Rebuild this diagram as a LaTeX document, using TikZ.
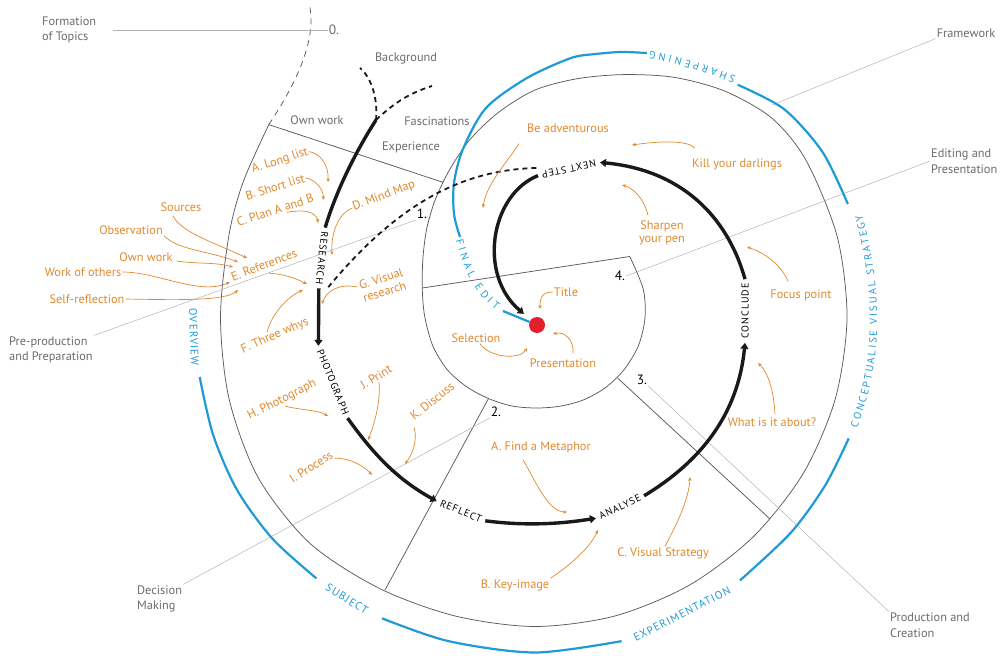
\documentclass[tikz,border=0pt]{standalone}
\usepackage{fontspec}
\setmainfont{PT Sans}
\newfontfamily\capsfont[LetterSpace=10]{PT Sans}
\usetikzlibrary{arrows.meta,decorations.text}
\definecolor{inkgray}{HTML}{6B6B6B}
\definecolor{linegray}{HTML}{5A5A5A}
\definecolor{leadgray}{HTML}{B4B4B4}
\definecolor{noteorange}{HTML}{E0892C}
\definecolor{bandblue}{HTML}{1E9AD6}
\definecolor{dotred}{HTML}{E31E2D}
\newcommand\bandfont{\color{bandblue}\fontsize{10.5}{12}\selectfont}
\tikzset{
    gray-label/.style = {text=inkgray, font=\fontsize{12.3}{15.5}\selectfont, inner sep=1pt, align=left},
    note-label/.style = {text=noteorange, font=\fontsize{12.3}{13.5}\selectfont, inner sep=1pt, align=left},
    note-arrow/.style = {draw=noteorange, line width=0.7pt, -{Stealth[length=4pt,width=3.4pt]}},
    number-label/.style = {font=\fontsize{13.5}{15}\selectfont, inner sep=1pt},
    stage-label/.style = {font=\capsfont\fontsize{10}{11}\selectfont, inner sep=4pt},
    stage-line/.style = {draw=black!90, line width=3.4pt},
    stage-arrow/.style = {stage-line, -{Triangle[length=6pt,width=8pt]}},
    stage-dash/.style = {draw=black!90, line width=1.8pt, dash pattern=on 5pt off 4pt},
    band-label/.style = {text=bandblue, font=\capsfont\fontsize{11}{12}\selectfont, inner sep=1pt},
    band-line/.style = {draw=bandblue, line width=2.2pt},
    spiral-line/.style = {draw=linegray, line width=0.75pt},
    leader-line/.style = {draw=leadgray, line width=0.5pt},
}

\begin{document}
\begin{tikzpicture}[x=1pt, y=-1pt]
\useasboundingbox (0,0) rectangle (1005,656);

% the spiral of sections
\draw[spiral-line] plot[smooth, tension=0.5] coordinates {
    (268.8,124.6) (243.2,181.9) (228.8,236) (220.5,318) (229.3,399.9) (258.3,477.8)
    (309.8,543.2) (379,588.2) (455.2,616) (535,626.5) (614.8,616) (689.3,585.2)
    (753.5,536.5) (803.5,473) (835.4,398.5) (847,318) (837.3,237) (806.5,161.2)
    (772.5,118.7) (725.3,91.3) (674,77.3) (623.6,74.6) (577.2,78.7) (535,90)
    (498.7,112.2) (470,139.5) (449.5,169.9) (435.4,199.3) (427,227.4) (423.3,253.5)
    (422.2,277) (422.7,298.2) (425,318) (432.6,345.4) (446.7,369) (466.4,386.6)
    (488.5,398.5) (511.4,405.9) (535,408) (558.7,406.4) (582.5,400.3) (605,388)
    (624.2,369.5) (638.4,345.7) (645,318) (643.2,289) (629.8,256.5)};
\coordinate (s0) at (268.8,124.6);
\coordinate (top-end) at (309,3);
\draw[spiral-line, dash pattern=on 6pt off 5pt] (s0) .. controls (295,85) and (318,40) .. (top-end);

% section borders
\draw[spiral-line] (s0) -- (443.4,182.5);
\draw[spiral-line] (422.4,288) -- (629.8,256.5);
\draw[spiral-line] (488.5,398.5) -- (385,590);
\draw[spiral-line] (617.5,378) -- (770,519);

% section numbers
\node[number-label, text=inkgray] (zero) at (334,30) {0.};
\node[number-label] (one) at (422,214) {1.};
\node[number-label] (two) at (496,412) {2.};
\node[number-label] (three) at (642,380) {3.};
\node[number-label] (four) at (620,276) {4.};

% phase labels and leaders
\node[gray-label, anchor=west] (formation) at (41,30) {Formation\\of Topics};
\node[gray-label] (framework) at (966,33) {Framework};
\node[gray-label, anchor=west] (editing) at (930,161) {Editing and\\Presentation};
\node[gray-label, anchor=west] (preproduction) at (8,350) {Pre-production\\and Preparation};
\node[gray-label, anchor=west] (decision) at (136,599) {Decision\\Making};
\node[gray-label, anchor=west] (production) at (889,625) {Production and\\Creation};
\coordinate (fw-point) at (772,105);
\draw[leader-line, shorten <=16pt] (formation.east) -- (zero.west);
\draw[leader-line] (fw-point) -- (framework.south west);
\draw[leader-line] (four.east) -- (editing.west);
\draw[leader-line] (one.south west) -- (preproduction.north east);
\draw[leader-line] (two.south west) -- (decision.north east);
\draw[leader-line] (three.south east) -- (production.north west);

\node[gray-label] (background) at (406,58) {Background};
\node[gray-label] (own-gray) at (317,120) {Own work};
\node[gray-label] (fascinations) at (437,121) {Fascinations};
\node[gray-label] (experience) at (411,147) {Experience};

% blue band
\node[band-label, rotate=-88] (overview) at (194,337) {OVERVIEW};
\node[band-label, rotate=-32] (subject) at (347,599) {SUBJECT};
\node[band-label, rotate=27] (experimentation) at (682,614) {EXPERIMENTATION};
\draw[band-line] plot[smooth] coordinates {(199.7,377.1) (213.2,435.1) (237.1,490) (272.3,538.5) (316.4,578.4)};
\draw[band-line] plot[smooth] coordinates {(382,618.3) (448.4,641.1) (535,652.5) (621.6,641.1)};
\draw[band-line] plot[smooth] coordinates {(740,580.4) (790.8,532.7) (825.1,485.5) (848.7,438.4)};
\draw[band-line] plot[smooth] coordinates {(847.9,204.1) (822.5,152) (784,109.1) (737.7,84.8)};
\draw[band-line] plot[smooth] coordinates {(647,53) (621,52) (596,54) (571,58) (527,78) (486,108)
    (463,149) (454,183) (454,214) (460,237)};
\path[decorate, decoration={text along path, text align=fit to path,
    text={|\bandfont|CONCEPTUALISE VISUAL STRATEGY}}]
    (857,428) .. controls (882,364) and (884,293) .. (862,215);
\path[decorate, decoration={text along path, text align=fit to path,
    text={|\bandfont|SHARPENING}}]
    (736,77) .. controls (710,66) and (681,57) .. (650,51);
\path[decorate, decoration={text along path, text align=fit to path,
    text={|\bandfont|FINAL EDIT}}]
    (456,240) .. controls (464,273) and (477,296) .. (496,310);

% centre point
\node[circle, fill=dotred, minimum size=16pt, inner sep=0pt] (dot) at (537,325) {};
\coordinate (fe-end) at (503,311);
\draw[band-line] (fe-end) -- (dot);

% main path
\node[stage-label, rotate=-96] (research) at (322,258) {RESEARCH};
\node[stage-label, rotate=-68] (photograph) at (333,382) {PHOTOGRAPH};
\node[stage-label, rotate=-22] (reflect) at (461,511) {REFLECT};
\node[stage-label, rotate=25] (analyse) at (620,507) {ANALYSE};
\node[stage-label, rotate=90] (conclude) at (745,311) {CONCLUDE};
\node[stage-label, rotate=192] (next-step) at (569,169) {NEXT STEP};
\coordinate (fork) at (376,120);
\coordinate (bg-end) at (360,68);
\coordinate (fasc-end) at (432,86);
\draw[stage-dash] (fork) .. controls (378,100) and (372,78) .. (bg-end);
\draw[stage-dash] (fork) .. controls (395,102) and (410,93) .. (fasc-end);
\draw[stage-dash] (next-step.south east) .. controls (465,170) and (400,200) .. (research.north east);
\draw[stage-line] (fork) .. controls (358,148) and (337,188) .. (research.west);
\draw[stage-arrow] (research.east) -- (photograph.west);
\draw[stage-arrow] (photograph.east) .. controls (372,452) and (395,478) .. (reflect.west);
\draw[stage-arrow] (reflect.east) .. controls (525,526) and (560,524) .. (analyse.west);
\draw[stage-arrow] (analyse.east) .. controls (700,462) and (738,415) .. (conclude.west);
\draw[stage-arrow] (conclude.east) .. controls (727,215) and (680,170) .. (next-step.west);
\draw[stage-arrow, shorten >=9pt] (next-step.east) .. controls (490,195) and (478,275) .. (dot);

% notes on the left
\node[note-label, rotate=18] (long-list) at (280,161) {A. Long list};
\node[note-label, rotate=17] (short-list) at (275,187) {B. Short list};
\node[note-label, rotate=18] (plan-ab) at (275,210) {C. Plan A and B};
\node[note-label, rotate=21] (mind-map) at (384,196) {D. Mind Map};
\node[note-label] (sources) at (181,207) {Sources};
\node[note-label] (observation) at (131,230) {Observation};
\node[note-label] (own-work) at (146,257) {Own work};
\node[note-label] (others) at (83,272) {Work of others};
\node[note-label] (self) at (87,299) {Self-reflection};
\node[note-label, rotate=21] (references) at (264,265) {E. References};
\node[note-label, rotate=24] (three-whys) at (275,336) {F. Three whys};
\node[note-label, rotate=17] (g-visual) at (383,285) {G. Visual\\research};
\node[note-label, rotate=27] (h-photo) at (282,400) {H. Photograph};
\node[note-label, rotate=32] (j-print) at (376,377) {J. Print};
\node[note-label, rotate=39] (k-discuss) at (432,401) {K. Discuss};
\node[note-label, rotate=33] (i-process) at (311,467) {I. Process};
\coordinate (t-long) at (328,182);
\coordinate (t-short) at (323,200);
\coordinate (t-plan) at (318,223);
\coordinate (t-mind) at (332,255);
\coordinate (t-sources) at (247,258);
\coordinate (t-obs) at (238,262);
\coordinate (t-own) at (233,267);
\coordinate (t-others) at (230,282);
\coordinate (t-self) at (238,290);
\coordinate (t-ref) at (307,284);
\coordinate (t-three) at (303,290);
\coordinate (t-visual) at (322,304);
\coordinate (t-hphoto) at (328,416);
\coordinate (t-print) at (368,440);
\coordinate (t-discuss) at (405,464);
\coordinate (t-process) at (372,475);
\draw[note-arrow] (long-list.east) .. controls (320,153) and (329,165) .. (t-long);
\draw[note-arrow] (short-list.east) .. controls (316,180) and (324,190) .. (t-short);
\draw[note-arrow] ([shift={(10,-3)}]plan-ab.south) .. controls (310,208) and (317,215) .. (t-plan);
\draw[note-arrow] (mind-map.west) .. controls (337,214) and (331,235) .. (t-mind);
\draw[note-arrow] ([shift={(-8,3)}]sources.south) .. controls (180,232) and (215,243) .. (t-sources);
\draw[note-arrow] (observation.south east) .. controls (178,250) and (205,250) .. (t-obs);
\draw[note-arrow] ([shift={(3,4)}]own-work.east) .. controls (195,264) and (215,262) .. (t-own);
\draw[note-arrow] (others.east) .. controls (158,272) and (200,296) .. (t-others);
\draw[note-arrow] (self.east) .. controls (180,300) and (225,301) .. (t-self);
\draw[note-arrow] ([shift={(3,3)}]references.south) .. controls (285,274) and (297,279) .. (t-ref);
\draw[note-arrow] ([shift={(-5,2)}]three-whys.north) .. controls (271,315) and (287,297) .. (t-three);
\draw[note-arrow] ([shift={(-3,-5)}]g-visual.west) .. controls (338,283) and (326,292) .. (t-visual);
\draw[note-arrow] (h-photo.south) .. controls (300,410) and (318,410) .. (t-hphoto);
\draw[note-arrow] (j-print.south) .. controls (381,402) and (374,425) .. (t-print);
\draw[note-arrow] ([shift={(0,5)}]k-discuss.south west) .. controls (418,443) and (411,456) .. (t-discuss);
\draw[note-arrow] ([shift={(2,5)}]i-process.east) .. controls (350,458) and (364,466) .. (t-process);

% notes at the bottom and right
\node[note-label] (metaphor) at (541,447) {A. Find a Metaphor};
\node[note-label] (key-image) at (515,585) {B. Key-image};
\node[note-label] (c-visual) at (663,553) {C. Visual Strategy};
\node[note-label] (what-about) at (772,422) {What is it about?};
\node[note-label] (focus) at (801,295) {Focus point};
\node[note-label] (kill) at (737,164) {Kill your darlings};
\node[note-label, align=center] (sharpen) at (662,233) {Sharpen\\your pen};
\node[note-label] (adventurous) at (568,128) {Be adventurous};
\node[note-label] (title) at (566,292) {Title};
\node[note-label] (selection) at (476,338) {Selection};
\node[note-label] (presentation) at (563,363) {Presentation};
\coordinate (t-metaphor) at (567,512);
\coordinate (t-key) at (598,530);
\coordinate (t-cvis) at (690,477);
\coordinate (t-what) at (758,363);
\coordinate (t-focus) at (747,247);
\coordinate (t-kill) at (632,145);
\coordinate (t-sharpen) at (622,185);
\coordinate (t-adv) at (483,208);
\coordinate (t-title) at (540,309);
\coordinate (t-sel) at (527,348);
\coordinate (t-pres) at (553,334);
\draw[note-arrow] ([shift={(-18,6)}]metaphor.south) .. controls (535,480) and (548,512) .. (t-metaphor);
\draw[note-arrow] (key-image.north east) .. controls (568,567) and (590,548) .. (t-key);
\draw[note-arrow] ([shift={(2,0)}]c-visual.north) .. controls (675,528) and (689,500) .. (t-cvis);
\draw[note-arrow] ([shift={(3,-2)}]what-about.north) .. controls (774,392) and (768,372) .. (t-what);
\draw[note-arrow] ([shift={(-13,-7)}]focus.north) .. controls (781,264) and (763,252) .. (t-focus);
\draw[note-arrow] ([shift={(4,-9)}]kill.north west) .. controls (688,140) and (660,141) .. (t-kill);
\draw[note-arrow] ([shift={(-14,-4)}]sharpen.north) .. controls (644,198) and (633,188) .. (t-sharpen);
\draw[note-arrow] ([shift={(-7,10)}]adventurous.south west) .. controls (505,165) and (486,185) .. (t-adv);
\draw[note-arrow] (title.west) .. controls (542,292) and (540,298) .. (t-title);
\draw[note-arrow] ([shift={(4,0)}]selection.south) .. controls (490,358) and (520,360) .. (t-sel);
\draw[note-arrow] ([shift={(10,-4)}]presentation.north) .. controls (574,340) and (565,331) .. (t-pres);
\end{tikzpicture}
\end{document}
